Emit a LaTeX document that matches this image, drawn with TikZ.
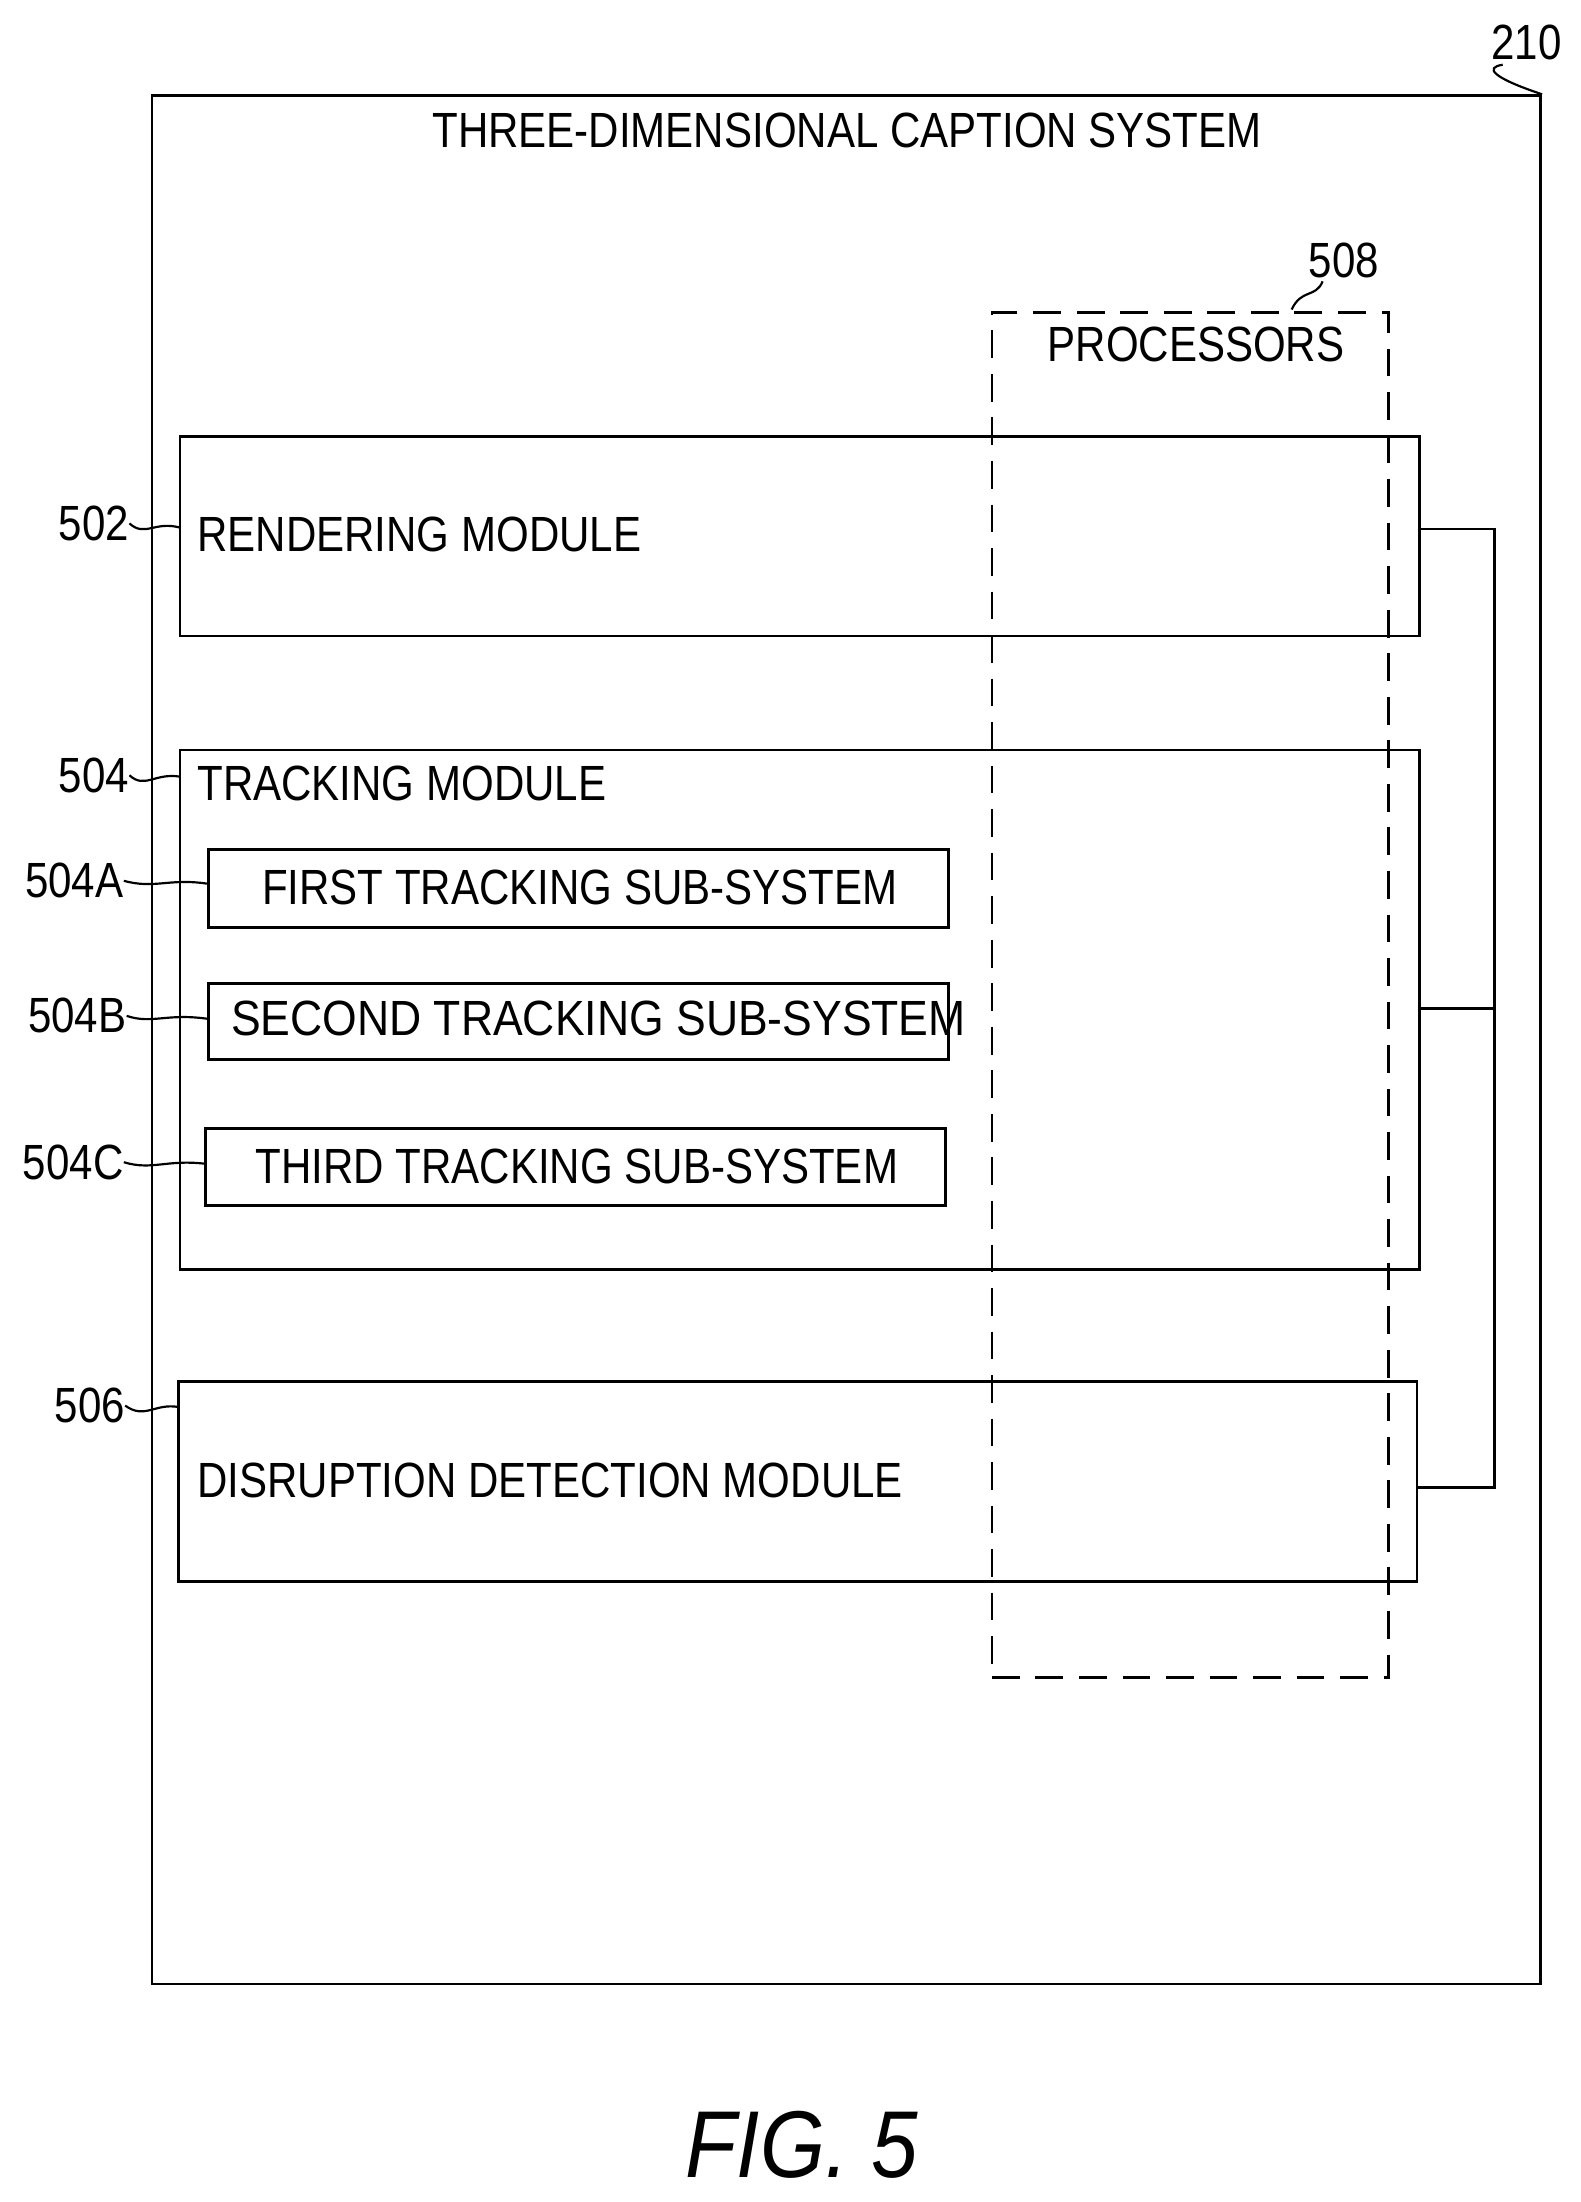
\documentclass[tikz,border=0pt]{standalone}
\usepackage{fontspec}
\setmainfont{Liberation Sans}
\usetikzlibrary{fit}
\newcommand{\Tx}[1]{\scalebox{0.85}[1]{#1}}
\begin{document}
\begin{tikzpicture}[x=0.025cm,y=-0.025cm,
  box/.style={draw,line width=1.4pt,inner sep=0pt},
  lbl/.style={font=\fontsize{25}{28}\selectfont,inner sep=0pt},
  ref/.style={font=\fontsize{25}{28}\selectfont,inner sep=0pt},
  lead/.style={line width=1.1pt},
  conn/.style={line width=1.4pt}]
\useasboundingbox (0,0) rectangle (1123,1565);
% outer
\coordinate (o1) at (108,68); \coordinate (o2) at (1095,1410);
\node[box,fit=(o1)(o2)] (outer) {};
\node[lbl] (title) at (602,93) {\Tx{THREE-DIMENSIONAL CAPTION SYSTEM}};
\node[ref] (r210) at (1085,30) {\Tx{210}};
\draw[lead] (outer.north east) .. controls (1060,55) and (1055,48) .. (1068,46);
% processors
\coordinate (p1) at (705,222); \coordinate (p2) at (987,1192);
\node[draw,line width=1.4pt,dash pattern=on 14pt off 8pt,inner sep=0pt,fit=(p1)(p2)] (proc) {};
\node[lbl] (proct) at (850,245) {\Tx{PROCESSORS}};
\node[ref] (r508) at (955,185) {\Tx{508}};
\coordinate (c508) at (918,220);
\draw[lead] (c508) .. controls (925,205) and (935,212) .. (940,200);
% rendering
\coordinate (a1) at (128,310); \coordinate (a2) at (1009,452);
\node[box,fit=(a1)(a2)] (rend) {};
\node[lbl,anchor=west] (rendt) at (140,380) {\Tx{RENDERING MODULE}};
\node[ref,anchor=east] (r502) at (92,372) {\Tx{502}};
\draw[lead] (r502.east) .. controls (103,382) and (110,370) .. (128,375);
% tracking
\coordinate (b1) at (128,533); \coordinate (b2) at (1009,902);
\node[box,fit=(b1)(b2)] (track) {};
\node[lbl,anchor=west] (trackt) at (140,557) {\Tx{TRACKING MODULE}};
\node[ref,anchor=east] (r504) at (92,551) {\Tx{504}};
\draw[lead] (r504.east) .. controls (103,561) and (110,549) .. (128,552);
% subsystems
\coordinate (s11) at (148,604); \coordinate (s12) at (674,659);
\node[box,fit=(s11)(s12)] (sub1) {};
\node[lbl] at (412,631) {\Tx{FIRST TRACKING SUB-SYSTEM}};
\node[ref,anchor=east] (r504a) at (88,626) {\Tx{504A}};
\draw[lead] (r504a.east) .. controls (110,632) and (120,624) .. (sub1.west |- 0,628);
\coordinate (s21) at (148,699); \coordinate (s22) at (674,753);
\node[box,fit=(s21)(s22)] (sub2) {};
\node[lbl,anchor=west] at (164,724) {\scalebox{0.9}[1]{SECOND TRACKING SUB-SYSTEM}};
\node[ref,anchor=east] (r504b) at (90,722) {\Tx{504B}};
\draw[lead] (r504b.east) .. controls (108,728) and (118,720) .. (sub2.west |- 0,724);
\coordinate (s31) at (146,802); \coordinate (s32) at (672,857);
\node[box,fit=(s31)(s32)] (sub3) {};
\node[lbl] at (410,829) {\Tx{THIRD TRACKING SUB-SYSTEM}};
\node[ref,anchor=east] (r504c) at (88,826) {\Tx{504C}};
\draw[lead] (r504c.east) .. controls (108,832) and (118,824) .. (sub3.west |- 0,827);
% disruption
\coordinate (d1) at (127,982); \coordinate (d2) at (1007,1124);
\node[box,fit=(d1)(d2)] (disr) {};
\node[lbl,anchor=west] (disrt) at (140,1052) {\Tx{DISRUPTION DETECTION MODULE}};
\node[ref,anchor=east] (r506) at (89,999) {\Tx{506}};
\draw[lead] (r506.east) .. controls (103,1009) and (110,997) .. (127,1000);
% connectors
\coordinate (bus) at (1062,376);
\draw[conn] (rend.east |- 0,376) -- (bus) |- (disr.east |- 0,1057);
\draw[conn] (track.east |- 0,717) -- (bus |- 0,717);
% figure caption
\node[font=\fontsize{48}{54}\selectfont\itshape,inner sep=0pt] (fig) at (570,1524) {\scalebox{0.88}[1]{FIG. 5}};
\end{tikzpicture}
\end{document}
